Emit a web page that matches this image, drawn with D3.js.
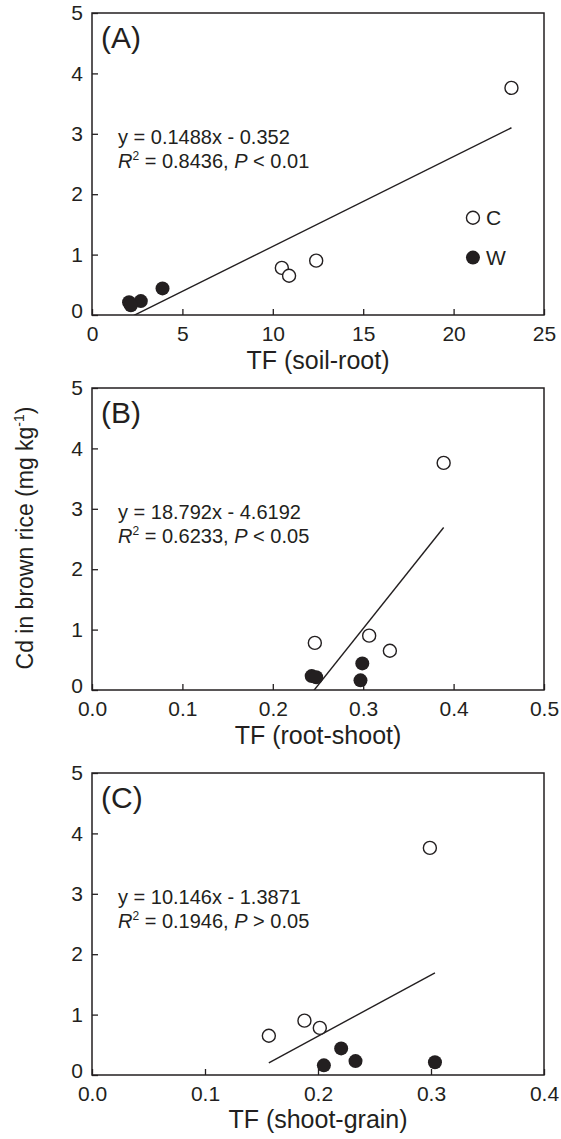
<!DOCTYPE html>
<html>
<head>
<meta charset="utf-8">
<script src="https://cdn.jsdelivr.net/npm/d3@7"></script>
<style>
body{margin:0;background:#fff;}
svg text{font-family:"Liberation Sans",Arial,sans-serif;fill:#231f20;}
.frame{fill:none;stroke:#231f20;stroke-width:1.5;}
.tick line{stroke:#231f20;stroke-width:1.3;}
.fit{stroke:#231f20;stroke-width:1.4;fill:none;}
</style>
</head>
<body>
<script>
var width=561,height=1139;

// Cd in brown rice (mg/kg), same samples in every panel
var cdC = [3.76, 0.78, 0.65, 0.90];
var cdW = [0.44, 0.23, 0.21, 0.16];

// transfer factors, one array per panel and group
var tfSoilRootC = [23.2, 10.5, 10.9, 12.4];
var tfSoilRootW = [3.9, 2.7, 2.05, 2.15];
var tfRootShootC = [0.389, 0.2465, 0.3295, 0.3066];
var tfRootShootW = [0.299, 0.243, 0.248, 0.297];
var tfShootGrainC = [0.299, 0.2016, 0.1565, 0.188];
var tfShootGrainW = [0.2205, 0.2332, 0.3035, 0.2052];

var panelNames = ["(A)", "(B)", "(C)"];
var xTitles = ["TF (soil-root)", "TF (root-shoot)", "TF (shoot-grain)"];
var xMax = [25, 0.5, 0.4];
var xTickStep = [5, 0.1, 0.1];
var xFormat = ["d", ".1f", ".1f"];
var slopes = [0.1488, 18.792, 10.146];
var intercepts = [-0.352, -4.6192, -1.3871];
var eqText = ["y = 0.1488x - 0.352", "y = 18.792x - 4.6192", "y = 10.146x - 1.3871"];
var r2Text = ["0.8436", "0.6233", "0.1946"];
var pText = ["< 0.01", "< 0.05", "> 0.05"];
var yTicks = [0, 1, 2, 3, 4, 5];
var legendY = [1.61, 0.95];

var xC = [tfSoilRootC, tfRootShootC, tfShootGrainC];
var xW = [tfSoilRootW, tfRootShootW, tfShootGrainW];

var left=92, right=544, ph=302;
var tops=[13, 388, 773];

var svg = d3.select("body")
	.append("svg")
	.attr("width", width)
	.attr("height", height);

panelNames.forEach(function(name, i){
	var g = svg.append("g").attr("transform", "translate(" + left + "," + tops[i] + ")");
	var w = right-left;
	var x = d3.scaleLinear().domain([0, xMax[i]]).range([0, w]);
	var y = d3.scaleLinear().domain([0, 5]).range([ph, 0]);

	var xt = d3.range(0, xMax[i] + xTickStep[i]/2, xTickStep[i]);

	g.append("g")
		.attr("transform", "translate(0," + ph + ")")
		.call(d3.axisBottom(x).tickValues(xt).tickFormat(d3.format(xFormat[i])).tickSize(-6).tickPadding(11))
		.call(function(a){ a.select(".domain").remove(); })
		.selectAll("text").style("font-size", "21px");

	g.append("g")
		.call(d3.axisLeft(y).tickValues(yTicks).tickFormat(d3.format("d")).tickSize(-6).tickPadding(9))
		.call(function(a){ a.select(".domain").remove(); })
		.selectAll("text").style("font-size", "21px")
		.attr("y", function(d){ return d == 0 ? -4 : 0; });

	g.append("rect").attr("class", "frame").attr("width", w).attr("height", ph);

	// clip so the fit line stops at y = 0
	g.append("clipPath").attr("id", "clip" + i)
		.append("rect").attr("width", w).attr("height", ph);

	var allX = xC[i].concat(xW[i]);
	var ext = d3.extent(allX);
	g.append("line")
		.attr("class", "fit")
		.attr("clip-path", "url(#clip" + i + ")")
		.attr("x1", x(ext[0])).attr("y1", y(slopes[i]*ext[0] + intercepts[i]))
		.attr("x2", x(ext[1])).attr("y2", y(slopes[i]*ext[1] + intercepts[i]));

	g.append("g").selectAll("circle")
		.data(xC[i])
		.enter().append("circle")
		.attr("cx", function(d){ return x(d); })
		.attr("cy", function(d, j){ return y(cdC[j]); })
		.attr("r", 6.5)
		.attr("fill", "#fff")
		.attr("stroke", "#231f20")
		.attr("stroke-width", 1.4);

	g.append("g").selectAll("circle")
		.data(xW[i])
		.enter().append("circle")
		.attr("cx", function(d){ return x(d); })
		.attr("cy", function(d, j){ return y(cdW[j]); })
		.attr("r", 7)
		.attr("fill", "#231f20");

	g.append("text")
		.attr("x", 9).attr("y", 35)
		.style("font-size", "30px")
		.text(name);

	g.append("text")
		.attr("x", 26).attr("y", 131)
		.style("font-size", "20px")
		.text(eqText[i]);

	var t2 = g.append("text")
		.attr("x", 26).attr("y", 155)
		.style("font-size", "20px");
	t2.append("tspan").style("font-style", "italic").text("R");
	t2.append("tspan").attr("dy", -8).style("font-size", "12px").text("2");
	t2.append("tspan").attr("dy", 8).text(" = " + r2Text[i] + ", ");
	t2.append("tspan").style("font-style", "italic").text("P");
	t2.append("tspan").text(" " + pText[i]);

	g.append("text")
		.attr("x", w/2).attr("y", ph + (i == 2 ? 53 : 54))
		.attr("text-anchor", "middle")
		.style("font-size", "25px")
		.text(xTitles[i]);

	if(i == 0){
		var lx = x(21.07);
		g.append("circle").attr("cx", lx).attr("cy", y(legendY[0])).attr("r", 6.5)
			.attr("fill", "#fff").attr("stroke", "#231f20").attr("stroke-width", 1.4);
		g.append("circle").attr("cx", lx).attr("cy", y(legendY[1])).attr("r", 7)
			.attr("fill", "#231f20");
		g.append("text").attr("x", lx + 13).attr("y", y(legendY[0])).attr("dy", "0.36em")
			.style("font-size", "21px").text("C");
		g.append("text").attr("x", lx + 13).attr("y", y(legendY[1])).attr("dy", "0.36em")
			.style("font-size", "21px").text("W");
	}
});

var yl = svg.append("text")
	.attr("transform", "translate(33,538) rotate(-90)")
	.attr("text-anchor", "middle")
	.style("font-size", "23px");
yl.append("tspan").text("Cd in brown rice (mg kg");
yl.append("tspan").attr("dy", -9).style("font-size", "14px").text("-1");
yl.append("tspan").attr("dy", 9).text(")");
</script>
</body>
</html>
